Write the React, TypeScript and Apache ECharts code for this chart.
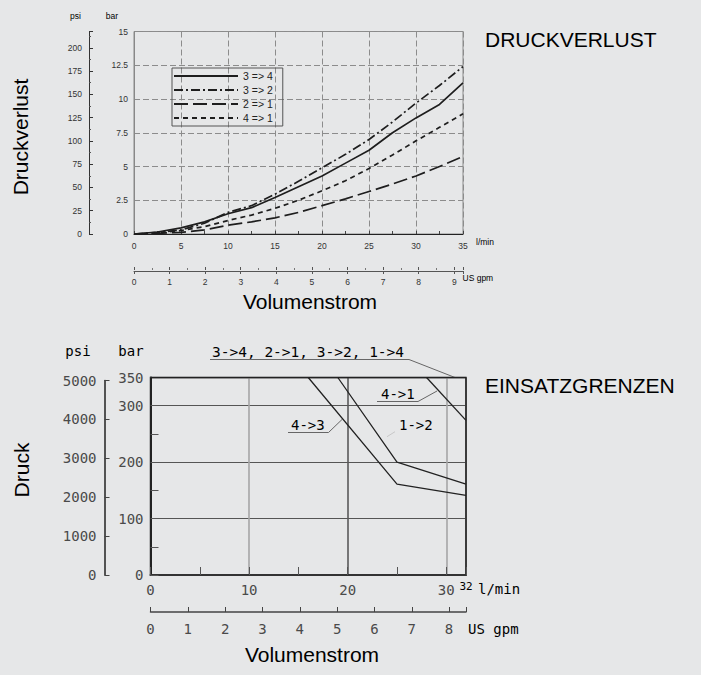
import React, { useEffect, useRef } from 'react';
import * as echarts from 'echarts';

// ---------- DATA ----------
const LPM_PER_GPM = 3.78541;
const PSI_PER_BAR = 14.5038;

// Druckverlust (bar) vs Volumenstrom (l/min)
const flowLpm = [0, 2.5, 5, 7.5, 10, 12.5, 15, 17.5, 20, 22.5, 25, 27.5, 30, 32.5, 35];
const loss34 = [0, 0.15, 0.45, 0.9, 1.5, 1.95, 2.7, 3.5, 4.3, 5.25, 6.2, 7.5, 8.6, 9.6, 11.2];
const loss32 = [0, 0.12, 0.3, 0.8, 1.6, 2.1, 2.95, 3.9, 4.9, 5.9, 7.0, 8.3, 9.7, 11.0, 12.4];
const loss21 = [0, 0.05, 0.12, 0.3, 0.65, 0.9, 1.2, 1.6, 2.1, 2.6, 3.15, 3.7, 4.3, 5.0, 5.75];
const loss41 = [0, 0.08, 0.25, 0.55, 1.0, 1.4, 1.9, 2.5, 3.2, 3.95, 4.85, 5.85, 6.9, 7.9, 8.9];
const lossNames = ['3 => 4', '3 => 2', '2 => 1', '4 => 1'];

// Einsatzgrenzen (bar) vs Volumenstrom (l/min)
const limitAllFlow = [0, 32];
const limitAllBar = [350, 350];
const limit43Flow = [16, 25, 32];
const limit43Bar = [350, 161, 141];
const limit12Flow = [19, 25, 32];
const limit12Bar = [350, 200, 161];
const limit41Flow = [28, 32];
const limit41Bar = [350, 274];

const zip = (xs: number[], ys: number[]) => xs.map((x, i) => [x, ys[i]]);

const SANS = 'Liberation Sans, Arial, sans-serif';
const MONO = 'DejaVu Sans Mono, monospace';
const BG = '#e6e7e8';

export default function App() {
  const ref = useRef<HTMLDivElement>(null);

  useEffect(() => {
    document.body.style.margin = '0';
    document.body.style.background = BG;
    const chart = echarts.init(ref.current!, null, { renderer: 'svg' });

    const lineCol = '#1e1e1e';
    const topSeries = [loss34, loss32, loss21, loss41].map((vals, i) => ({
      name: lossNames[i],
      type: 'line',
      xAxisIndex: 0,
      yAxisIndex: 0,
      symbol: 'none',
      data: zip(flowLpm, vals),
      lineStyle: {
        color: lineCol,
        width: 1.7,
        type: [null, [9, 3, 2, 3], [14, 5], [5, 4]][i] || 'solid',
      },
      itemStyle: { color: lineCol },
    }));

    const bottomSeries = [
      zip(limitAllFlow, limitAllBar),
      zip(limit43Flow, limit43Bar),
      zip(limit12Flow, limit12Bar),
      zip(limit41Flow, limit41Bar),
    ].map((d) => ({
      type: 'line',
      xAxisIndex: 3,
      yAxisIndex: 3,
      symbol: 'none',
      data: d,
      lineStyle: { color: '#222', width: 1.3 },
    }));

    const topLabel = { fontSize: 8.5, color: '#333', fontFamily: SANS };
    const monoLabel = { fontSize: 14, color: '#4a4a4a', fontFamily: MONO };
    const dashed = { color: '#8c8c8c', width: 1, type: [6, 3] };

    const gpmTopMax = 35 / LPM_PER_GPM;
    const gpmBotMax = 32 / LPM_PER_GPM;

    const txt = (x: number, y: number, text: string, font: any) => ({
      type: 'text',
      x,
      y,
      style: { text, ...font, align: 'left', verticalAlign: 'middle' },
    });

    const leader = (pts: number[][], color = '#666') => ({
      type: 'polyline',
      shape: { points: pts },
      style: { stroke: color, lineWidth: 1, fill: 'none' },
    });

    chart.setOption({
      animation: false,
      backgroundColor: BG,
      grid: [
        { left: 134, top: 31.5, width: 329, height: 202.5, show: true, borderColor: '#8a8a8a', borderWidth: 1 },
        { left: 134, top: 270, width: 329, height: 1 },
        { left: 150.5, top: 377.5, width: 315.5, height: 197.5, show: true, borderColor: '#333', borderWidth: 1.5 },
        { left: 150.5, top: 611, width: 315.5, height: 1 },
        { left: 104.5, top: 380.5, width: 1, height: 194.5 },
      ],
      legend: {
        data: lossNames,
        orient: 'vertical',
        left: 172,
        top: 68,
        itemWidth: 64,
        itemHeight: 10,
        itemGap: 3,
        selectedMode: false,
        borderColor: '#555',
        borderWidth: 1,
        padding: [2.5, 10, 2.5, 1],
        itemStyle: { color: 'rgba(0,0,0,0)', opacity: 0, borderWidth: 0 },
        textStyle: { fontSize: 10.5, color: '#222', fontFamily: SANS },
      },
      xAxis: [
        {
          gridIndex: 0, type: 'value', min: 0, max: 35, interval: 5,
          axisLine: { lineStyle: { color: '#222', width: 1.2 } },
          axisTick: { show: true, inside: true, length: 3, lineStyle: { color: '#444' } },
          minorTick: { show: true, splitNumber: 2, length: 3, lineStyle: { color: '#444' } },
          axisLabel: { ...topLabel, margin: 7 },
          splitLine: { show: true, lineStyle: dashed },
        },
        {
          gridIndex: 1, type: 'value', position: 'bottom', min: 0, max: gpmTopMax, interval: 1,
          axisLine: { lineStyle: { color: '#555', width: 1 } },
          axisTick: { show: true, length: 3, lineStyle: { color: '#555' } },
          minorTick: { show: false },
          axisLabel: { ...topLabel, margin: 6, formatter: (v: number) => (Number.isInteger(v) ? String(v) : '') },
          splitLine: { show: false },
        },
        {
          gridIndex: 1, type: 'value', position: 'top', min: 0, max: gpmTopMax, interval: 1,
          axisLine: { show: false },
          axisTick: { show: true, length: 3, lineStyle: { color: '#555' } },
          minorTick: { show: true, splitNumber: 2, length: 2, lineStyle: { color: '#777' } },
          axisLabel: { show: false },
          splitLine: { show: false },
        },
        {
          gridIndex: 2, type: 'value', min: 0, max: 32, interval: 10,
          axisLine: { lineStyle: { color: '#333', width: 2 } },
          axisTick: { show: false },
          axisLabel: {
            ...monoLabel, margin: 8,
            formatter: (v: number) => (v % 10 === 0 ? String(v) : ''),
          },
          splitLine: {
            show: true,
            lineStyle: { color: ['#333', '#a6a6a6', '#5a5a5a', '#a6a6a6', '#333'], width: 1.6 },
          },
        },
        {
          gridIndex: 2, type: 'value', position: 'bottom', min: 0, max: 32, interval: 5,
          axisLine: { show: false },
          axisTick: { show: true, inside: true, length: 8, lineStyle: { color: '#555' } },
          axisLabel: { show: false },
          splitLine: { show: false },
        },
        {
          gridIndex: 3, type: 'value', position: 'bottom', min: 0, max: gpmBotMax, interval: 1,
          axisLine: { lineStyle: { color: '#444', width: 1.5 } },
          axisTick: { show: true, inside: true, length: 5, lineStyle: { color: '#444' } },
          axisLabel: { ...monoLabel, margin: 10, formatter: (v: number) => (Number.isInteger(v) ? String(v) : '') },
          splitLine: { show: false },
        },
        { gridIndex: 4, type: 'value', show: false },
      ],
      yAxis: [
        {
          gridIndex: 0, type: 'value', min: 0, max: 15, interval: 2.5,
          axisLine: { show: true, lineStyle: { color: '#888', width: 1 } },
          axisTick: { show: false },
          axisLabel: { ...topLabel, margin: 6 },
          splitLine: { show: true, lineStyle: dashed },
        },
        {
          gridIndex: 0, type: 'value', position: 'left', offset: 45, min: 0, max: 15 * PSI_PER_BAR, interval: 25,
          axisLine: { show: true, lineStyle: { color: '#333', width: 1 } },
          axisTick: { show: true, inside: true, length: 4, lineStyle: { color: '#333' } },
          minorTick: { show: true, splitNumber: 2, length: 2, lineStyle: { color: '#555' } },
          axisLabel: { ...topLabel, margin: 7, formatter: (v: number) => (v % 25 === 0 ? String(v) : '') },
          splitLine: { show: false },
        },
        { gridIndex: 1, type: 'value', show: false },
        {
          gridIndex: 2, type: 'value', min: 0, max: 350, interval: 100,
          axisLine: { show: true, lineStyle: { color: '#222', width: 2 } },
          axisTick: { show: false },
          axisLabel: { ...monoLabel, margin: 7, formatter: (v: number) => String(v) },
          splitLine: { show: true, lineStyle: { color: '#555', width: 1 } },
        },
        {
          gridIndex: 2, type: 'value', position: 'left', min: 0, max: 350, interval: 50,
          axisLine: { show: false },
          axisTick: { show: true, inside: true, length: 8, lineStyle: { color: '#555' } },
          axisLabel: { show: false },
          splitLine: { show: false },
        },
        { gridIndex: 3, type: 'value', show: false },
        {
          gridIndex: 4, type: 'value', position: 'left', min: 0, max: 5000, interval: 1000,
          axisLine: { show: true, lineStyle: { color: '#222', width: 1.5 } },
          axisTick: { show: true, inside: true, length: 5, lineStyle: { color: '#444' } },
          axisLabel: { ...monoLabel, margin: 8, formatter: (v: number) => String(v) },
          splitLine: { show: false },
        },
      ],
      series: [...topSeries, ...bottomSeries],
      graphic: [
        // top chart texts
        { type: 'text', x: 75.5, y: 16, style: { text: 'psi', ...topLabel, align: 'center', verticalAlign: 'middle' } },
        { type: 'text', x: 112, y: 16, style: { text: 'bar', ...topLabel, align: 'center', verticalAlign: 'middle' } },
        txt(476, 242, 'l/min', topLabel),
        txt(462.5, 278, 'US gpm', topLabel),
        { type: 'text', x: 310, y: 301, style: { text: 'Volumenstrom', fontSize: 21, color: '#222', fontFamily: SANS, align: 'center', verticalAlign: 'middle' } },
        { type: 'text', x: 20, y: 137, rotation: Math.PI / 2, style: { text: 'Druckverlust', fontSize: 21, color: '#222', fontFamily: SANS, align: 'center', verticalAlign: 'middle' } },
        txt(485, 39, 'DRUCKVERLUST', { fontSize: 21, color: '#222', fontFamily: SANS }),
        // bottom chart texts
        txt(485, 385, 'EINSATZGRENZEN', { fontSize: 21, color: '#222', fontFamily: SANS }),
        { type: 'text', x: 21, y: 470, rotation: Math.PI / 2, style: { text: 'Druck', fontSize: 21, color: '#222', fontFamily: SANS, align: 'center', verticalAlign: 'middle' } },
        { type: 'text', x: 312, y: 654, style: { text: 'Volumenstrom', fontSize: 21, color: '#222', fontFamily: SANS, align: 'center', verticalAlign: 'middle' } },
        { type: 'text', x: 78, y: 351, style: { text: 'psi', ...monoLabel, align: 'center', verticalAlign: 'middle' } },
        { type: 'text', x: 131, y: 351, style: { text: 'bar', ...monoLabel, align: 'center', verticalAlign: 'middle' } },
        { type: 'text', x: 466, y: 586, style: { text: '32', ...monoLabel, fontSize: 11, align: 'center', verticalAlign: 'middle' } },
        txt(478, 589, 'l/min', monoLabel),
        txt(468, 629, 'US gpm', monoLabel),
        txt(212, 352, '3->4, 2->1, 3->2, 1->4', { ...monoLabel, fontSize: 14.5 }),
        leader([[210, 359.5], [409, 359.5], [455, 377.5]]),
        txt(381, 393.5, '4->1', monoLabel),
        leader([[377, 401.5], [418, 401.5], [437, 391]]),
        txt(291, 424.5, '4->3', monoLabel),
        leader([[288, 432.5], [328.5, 432.5], [342, 419.5]]),
        txt(399, 424.5, '1->2', monoLabel),
        leader([[387, 436.7], [395, 431.7]], '#c8c8c8'),
      ],
    });

    return () => chart.dispose();
  }, []);

  return <div ref={ref} style={{ width: 701, height: 675, background: BG }} />;
}
